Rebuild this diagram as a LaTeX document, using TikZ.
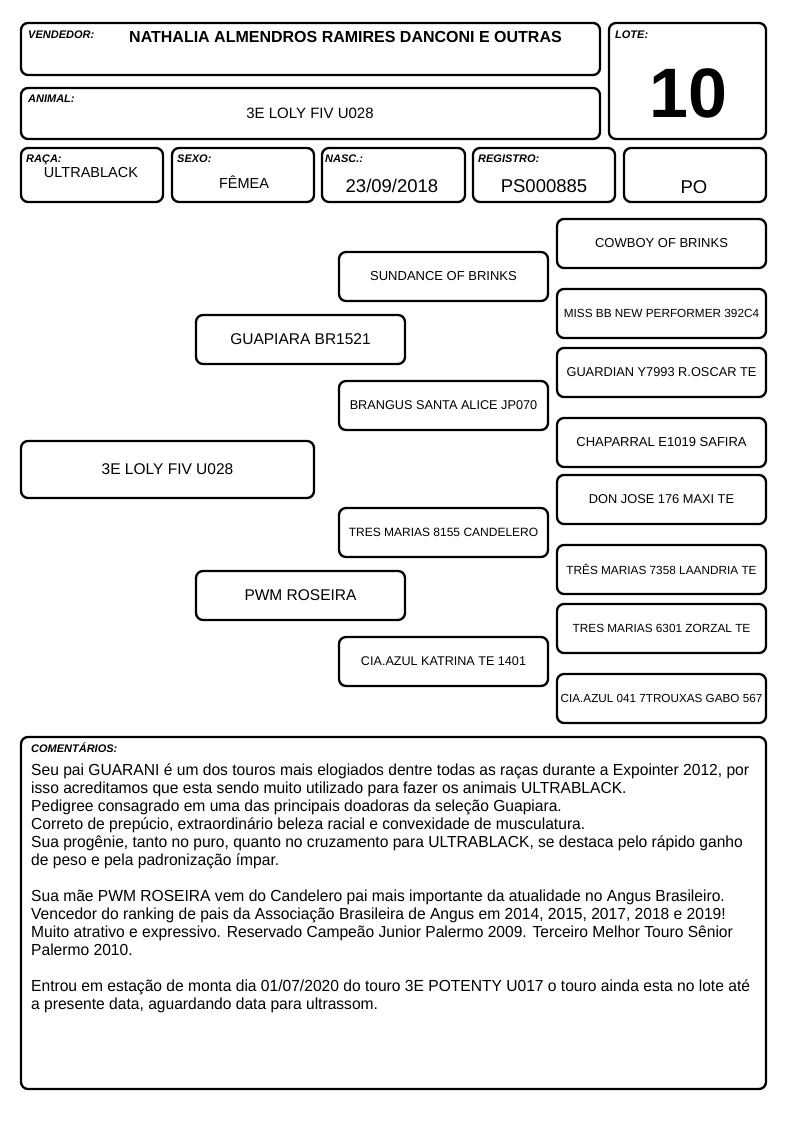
\documentclass[tikz,border=0pt]{standalone}
\usepackage{fontspec}
\setmainfont{Liberation Sans}
\newfontfamily\bodyfont[FakeStretch=0.975]{Liberation Sans}
\newcommand\fsz[1]{\fontsize{#1}{#1}\selectfont}
\begin{document}
\begin{tikzpicture}[x=1pt,y=-1pt,
  box/.style={draw, rounded corners=7pt, line width=2.3pt, inner sep=0pt, align=center},
  lbl/.style={font=\fsz{11}\bfseries\itshape, anchor=base west, inner sep=0pt},
  val/.style={anchor=base, inner sep=0pt},
  g3/.style={box, minimum width=209pt, minimum height=49pt},
  g2/.style={box, minimum width=209pt, minimum height=49pt},
  g1/.style={box, minimum width=209pt, minimum height=49pt}]
\useasboundingbox (0,0) rectangle (794,1123);

% header boxes
\node[box, minimum width=579pt, minimum height=52pt] (vend) at (310.5,49) {};
\node[box, minimum width=157pt, minimum height=116pt] (lote) at (687.5,81) {};
\node[box, minimum width=579pt, minimum height=51pt] (animal) at (310.5,113.5) {};
\node[box, minimum width=142pt, minimum height=54pt] (raca) at (92,175) {};
\node[box, minimum width=142pt, minimum height=54pt] (sexo) at (243,175) {};
\node[box, minimum width=143pt, minimum height=54pt] (nasc) at (393.5,175) {};
\node[box, minimum width=142pt, minimum height=54pt] (reg) at (544,175) {};
\node[box, minimum width=142pt, minimum height=54pt] (po) at (695,175) {};

% header labels
\node[lbl] (lvend) at (28,39) {VENDEDOR:};
\node[lbl] (llote) at (615,39) {LOTE:};
\node[lbl] (lanimal) at (28,103) {ANIMAL:};
\node[lbl] (lraca) at (26,163) {RAÇA:};
\node[lbl] (lsexo) at (177,163) {SEXO:};
\node[lbl] (lnasc) at (325,163) {NASC.:};
\node[lbl] (lreg) at (478,163) {REGISTRO:};

% header values
\node[val, font=\fsz{16}\bfseries] (tvend) at (345.5,43) {NATHALIA ALMENDROS RAMIRES DANCONI E OUTRAS};
\node[val, font=\fsz{70}\bfseries] (tlote) at (688,118) {10};
\node[val, font=\fsz{15}] (tanimal) at (310,119) {3E LOLY FIV U028};
\node[val, font=\fsz{14.5}] (traca) at (91,178) {ULTRABLACK};
\node[val, font=\fsz{14.5}] (tsexo) at (244,189) {FÊMEA};
\node[val, font=\fsz{18.5}] (tnasc) at (392,193) {23/09/2018};
\node[val, font=\fsz{18.5}] (treg) at (544,193) {PS000885};
\node[val, font=\fsz{18.5}] (tpo) at (694,194) {PO};

% pedigree
\node[box, minimum width=293pt, minimum height=57pt, font=\fsz{15.5}] (loly) at (167.5,469.5) {3E LOLY FIV U028};
\node[g1, font=\fsz{15.5}] (guapiara) at (300.5,339.5) {GUAPIARA BR1521};
\node[g1, font=\fsz{15.5}] (roseira) at (300.5,595.5) {PWM ROSEIRA};
\node[g2, font=\fsz{13}] (sundance) at (443.5,276.5) {SUNDANCE OF BRINKS};
\node[g2, font=\fsz{12.7}] (brangus) at (443.5,405.5) {BRANGUS SANTA ALICE JP070};
\node[g2, font=\fsz{12}] (candelero) at (443.5,532.5) {TRES MARIAS 8155 CANDELERO};
\node[g2, font=\fsz{12.6}] (katrina) at (443.5,661.5) {CIA.AZUL KATRINA TE 1401};
\node[g3, font=\fsz{13}] (cowboy) at (661.5,243.5) {COWBOY OF BRINKS};
\node[g3, font=\fsz{11.8}] (missbb) at (661.5,313.5) {MISS BB NEW PERFORMER 392C4};
\node[g3, font=\fsz{12.8}] (guardian) at (661.5,372.5) {GUARDIAN Y7993 R.OSCAR TE};
\node[g3, font=\fsz{13}] (chaparral) at (661.5,442.5) {CHAPARRAL E1019 SAFIRA};
\node[g3, font=\fsz{12.8}] (donjose) at (661.5,499.5) {DON JOSE 176 MAXI TE};
\node[g3, font=\fsz{11.8}] (laandria) at (661.5,569.5) {TRÊS MARIAS 7358 LAANDRIA TE};
\node[g3, font=\fsz{11.8}] (zorzal) at (661.5,628.5) {TRES MARIAS 6301 ZORZAL TE};
\node[g3, font=\fsz{11.7}] (gabo) at (661.5,698.5) {CIA.AZUL 041 7TROUXAS GABO 567};

% comments
\node[box, minimum width=745pt, minimum height=352pt] (coment) at (393.5,913) {};
\node[lbl] (lcoment) at (31,752) {COMENTÁRIOS:};
\node[anchor=north west, inner sep=0pt, align=left, font=\bodyfont\fontsize{16}{18}\selectfont] (tcoment) at (31,764) {%
Seu pai GUARANI é um dos touros mais elogiados dentre todas as raças durante a Expointer 2012, por\\
isso acreditamos que esta sendo muito utilizado para fazer os animais ULTRABLACK.\\
Pedigree consagrado em uma das principais doadoras da seleção Guapiara.\\
Correto de prepúcio, extraordinário beleza racial e convexidade de musculatura.\\
Sua progênie, tanto no puro, quanto no cruzamento para ULTRABLACK, se destaca pelo rápido ganho\\
de peso e pela padronização ímpar.\\[18pt]
Sua mãe PWM ROSEIRA vem do Candelero pai mais importante da atualidade no Angus Brasileiro.\\
Vencedor do ranking de pais da Associação Brasileira de Angus em 2014, 2015, 2017, 2018 e 2019!\\
Muito atrativo e expressivo. Reservado Campeão Junior Palermo 2009. Terceiro Melhor Touro Sênior\\
Palermo 2010.\\[18pt]
Entrou em estação de monta dia 01/07/2020 do touro 3E POTENTY U017 o touro ainda esta no lote até\\
a presente data, aguardando data para ultrassom.};
\end{tikzpicture}
\end{document}
